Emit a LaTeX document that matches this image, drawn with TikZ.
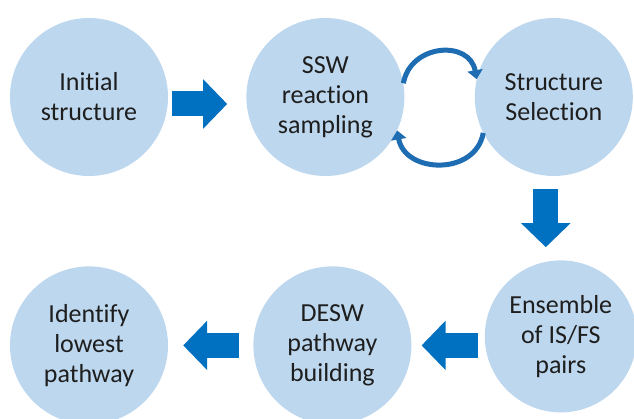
\documentclass[tikz,border=0pt]{standalone}
\usepackage{fontspec}
\setmainfont{Carlito}[Ligatures=NoCommon]
\usetikzlibrary{positioning,arrows.meta}
\definecolor{stagefill}{RGB}{189,215,238}
\definecolor{flowblue}{RGB}{0,112,192}
\definecolor{loopblue}{RGB}{30,108,178}
\definecolor{stagetext}{RGB}{30,30,30}
\tikzset{
  stage/.style={circle, fill=stagefill, minimum size=158pt, inner sep=0pt,
    align=center, text=stagetext, font=\fontsize{26}{30}\selectfont},
  bigarrow/.style={draw=flowblue, line width=25pt,
    -{Triangle[length=24pt,width=48pt]}},
  looparrow/.style={draw=loopblue, line width=5pt,
    -{Triangle[length=9pt,width=15pt]}}
}
\begin{document}
\begin{tikzpicture}
      \useasboundingbox (0,0) rectangle (634pt,419pt);
      % Define nodes
      \node[stage] (init) at (89pt,322pt) {Initial\\structure};
      \node[stage, right=78pt of init] (ssw) {SSW\\reaction\\sampling};
      \node[stage, right=70pt of ssw] (sel) {Structure\\Selection};
      \node[stage, minimum size=152pt, below=84pt of sel, xshift=7pt] (ens) {Ensemble\\of IS/FS\\pairs};
      \node[stage, left=73pt of ens, yshift=-9pt] (desw) {DESW\\pathway\\building};
      \node[stage, left=85pt of desw] (ident) {Identify\\lowest\\pathway};
      % Connect nodes
      \draw[bigarrow, shorten <=4pt, shorten >=19pt] ([yshift=-7pt]init.east) -- ([yshift=-7pt]ssw.west);
      \draw[looparrow] (ssw.10) to[out=80, in=100, looseness=1.4] (sel.167);
      \draw[looparrow] (sel.207) to[out=-100, in=-80, looseness=1.3] (ssw.335);
      \draw[bigarrow, shorten <=13pt, shorten >=13pt] ([xshift=-8pt]sel.south) -- ([xshift=-8pt]sel.south |- ens.north);
      \draw[bigarrow, shorten <=7pt, shorten >=10pt] (desw.east -| ens.west) -- (desw.east);
      \draw[bigarrow, shorten <=14pt, shorten >=15pt] (desw.west) -- (ident.east);
\end{tikzpicture}
\end{document}
